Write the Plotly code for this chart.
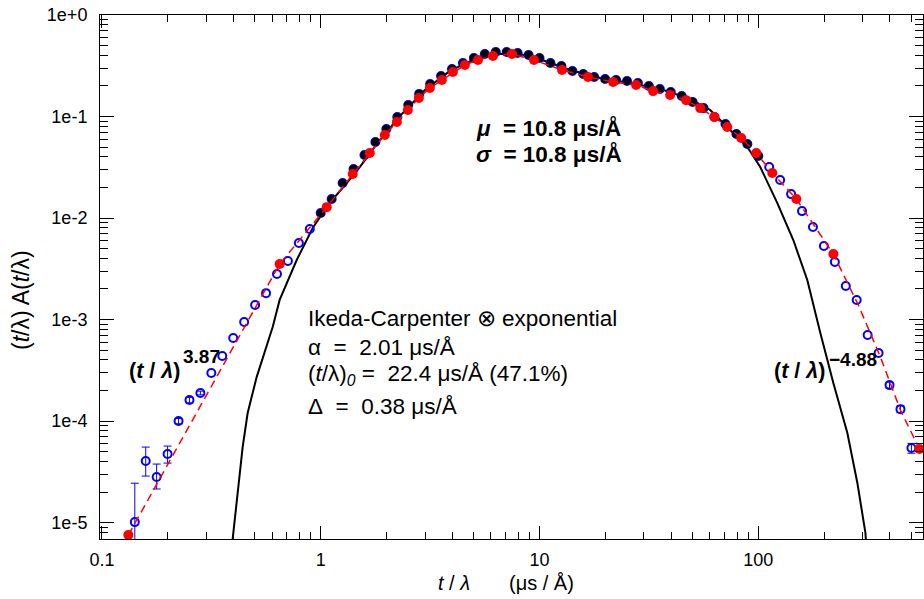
import plotly.graph_objects as go

# ---------------- data ----------------
blue_x = [0.1413, 0.1585, 0.1778, 0.1995, 0.2239, 0.2512, 0.2818, 0.3162, 0.3548, 0.3981,
          0.4467, 0.5012, 0.5623, 0.6310, 0.7079, 0.7943, 0.8913, 1.000, 1.122, 1.259,
          1.413, 1.585, 1.778, 1.995, 2.239, 2.512, 2.818, 3.162, 3.548, 3.981,
          4.467, 5.012, 5.623, 6.310, 7.079, 7.943, 8.913, 10.00, 11.22, 12.59,
          14.13, 15.85, 17.78, 19.95, 22.39, 25.12, 28.18, 31.62, 35.48, 39.81,
          44.67, 50.12, 56.23, 63.10, 70.79, 79.43, 89.13, 100.0, 112.2, 125.9,
          141.3, 158.5, 177.8, 199.5, 223.9, 251.2, 281.8, 316.2, 354.8, 398.1,
          446.7, 501.2]
blue_y = [1.01e-5, 4.04e-5, 2.81e-5, 4.73e-5, 1.00e-4, 1.61e-4, 1.89e-4, 2.97e-4, 4.37e-4, 6.57e-4,
          9.45e-4, 1.39e-3, 1.82e-3, 2.81e-3, 3.77e-3, 5.67e-3, 7.79e-3, 0.0112, 0.0154, 0.0221,
          0.0304, 0.0418, 0.0561, 0.0753, 0.0989, 0.130, 0.167, 0.209, 0.251, 0.294,
          0.337, 0.377, 0.413, 0.432, 0.432, 0.422, 0.404, 0.377, 0.337, 0.315,
          0.281, 0.262, 0.245, 0.234, 0.229, 0.224, 0.214, 0.200, 0.187, 0.174,
          0.159, 0.139, 0.121, 0.0989, 0.0844, 0.0673, 0.0536, 0.0408, 0.0318, 0.0237,
          0.0172, 0.0117, 8.15e-3, 5.30e-3, 3.69e-3, 2.14e-3, 1.56e-3, 7.03e-4, 4.68e-4, 2.26e-4,
          1.31e-4, 5.42e-5]
# error bars large enough to be seen (None = hidden under the marker)
blue_err_plus = [1.43e-5, 1.5e-5, 0.96e-5, 0.94e-5, 0.6e-5, 1.0e-5, 0.8e-5, None, None, None,
                 None, None, None, None, None, None, None, None, None, None,
                 None, None, None, None, None, None, None, None, None, None,
                 None, None, None, None, None, None, None, None, None, None,
                 None, None, None, None, None, None, None, None, None, None,
                 None, None, None, None, None, None, None, None, None, None,
                 None, None, None, None, None, None, None, None, None, 1.5e-5,
                 1.0e-5, 0.6e-5]
blue_err_minus = [0.99e-5, 1.17e-5, 0.67e-5, 0.88e-5, 0.6e-5, 1.0e-5, 0.8e-5, None, None, None,
                  None, None, None, None, None, None, None, None, None, None,
                  None, None, None, None, None, None, None, None, None, None,
                  None, None, None, None, None, None, None, None, None, None,
                  None, None, None, None, None, None, None, None, None, None,
                  None, None, None, None, None, None, None, None, None, None,
                  None, None, None, None, None, None, None, None, None, 1.5e-5,
                  1.0e-5, 0.6e-5]

# black filled points (second data set, 1 .. 100 us/A)
black_x = blue_x[17:58]
black_y = blue_y[17:58]

red_x = [0.132, 0.649, 1.065, 1.401, 1.676, 1.963, 2.228, 2.501, 2.809, 3.154,
         3.579, 4.019, 4.560, 5.231, 6.127, 7.484, 9.437, 12.68, 16.67, 21.70,
         27.65, 33.05, 39.55, 46.80, 54.28, 62.93, 72.16, 83.58, 97.9, 115.9,
         149.3, 220.4, 545.5]
red_y = [7.53e-6, 3.52e-3, 0.0128, 0.0271, 0.0437, 0.0657, 0.0883, 0.116, 0.152, 0.191,
         0.229, 0.274, 0.322, 0.360, 0.395, 0.413, 0.360, 0.287, 0.245, 0.219,
         0.204, 0.178, 0.163, 0.145, 0.121, 0.0989, 0.0788, 0.0614, 0.0437, 0.0278,
         0.0154, 4.42e-3, 5.30e-5]

# red dashed fit (full model)
fit_x = red_x[:-1] + [286.7, 361.7, 446.6, 545.5]
fit_y = red_y[:-1] + [1.39e-3, 4.27e-4, 1.28e-4, 5.30e-5]

# black solid curve (Ikeda-Carpenter (x) exponential)
ic_x = [0.3915, 0.3957, 0.4396, 0.4634, 0.5094, 0.603, 0.649, 0.7765, 0.919, 1.099,
        1.315, 1.508, 1.862, 2.299, 2.992, 3.892, 5.069, 6.596, 8.146, 10.60,
        13.79, 18.92, 25.96, 35.59, 48.84, 60.30, 66.98, 76.84, 89.1, 102.1,
        122.1, 144.6, 167.5, 192.2, 220.4, 255.4, 283.8, 309.0, 312.0]
ic_y = [4.3e-6, 6.87e-6, 5.54e-5, 1.20e-4, 2.71e-4, 8.44e-4, 1.56e-3, 3.86e-3, 7.97e-3, 0.0141,
        0.0221, 0.0318, 0.0587, 0.101, 0.182, 0.281, 0.368, 0.413, 0.413, 0.352,
        0.287, 0.240, 0.214, 0.187, 0.149, 0.116, 0.0924, 0.0688, 0.0501, 0.0318,
        0.0141, 6.07e-3, 2.45e-3, 7.36e-4, 2.37e-4, 7.62e-5, 2.45e-5, 7.88e-6, 5.5e-6]

x_major = [0.1, 1, 10, 100]
x_major_text = ["0.1", "1", "10", "100"]
y_major = [1e-5, 1e-4, 1e-3, 1e-2, 1e-1, 1]
y_major_text = ["1e-5", "1e-4", "1e-3", "1e-2", "1e-1", "1e+0"]

x_minor = [m * d for d in [0.1, 1, 10, 100] for m in range(2, 10)]
y_minor = [m * d for d in [1e-6, 1e-5, 1e-4, 1e-3, 1e-2, 1e-1] for m in range(2, 10)]

FONT = "Liberation Sans, Arial, sans-serif"
BLUE = "rgb(0,0,255)"
RED = "rgb(255,0,0)"
NB = "\u00a0"

fig = go.Figure()

fig.add_trace(go.Scatter(
    x=ic_x, y=ic_y, mode="lines", line=dict(color="black", width=2),
    showlegend=False, hoverinfo="skip"))

# blue points: split into those with visible error bars and those without
eb_idx = [i for i, e in enumerate(blue_err_plus) if e is not None]
ne_idx = [i for i, e in enumerate(blue_err_plus) if e is None]
blue_marker = dict(symbol="circle-open", size=8, color=BLUE, line=dict(width=2, color=BLUE))

fig.add_trace(go.Scatter(
    x=[blue_x[i] for i in ne_idx], y=[blue_y[i] for i in ne_idx], mode="markers",
    marker=blue_marker, showlegend=False))
fig.add_trace(go.Scatter(
    x=[blue_x[i] for i in eb_idx], y=[blue_y[i] for i in eb_idx], mode="markers",
    marker=blue_marker,
    error_y=dict(type="data", symmetric=False,
                 array=[blue_err_plus[i] for i in eb_idx],
                 arrayminus=[blue_err_minus[i] for i in eb_idx],
                 color=BLUE, thickness=1, width=4),
    showlegend=False))

fig.add_trace(go.Scatter(
    x=black_x, y=black_y, mode="markers",
    marker=dict(symbol="circle", size=8, color="black"),
    showlegend=False))

fig.add_trace(go.Scatter(
    x=fit_x, y=fit_y, mode="lines",
    line=dict(color=RED, width=1.5, dash="8px,5px"),
    showlegend=False, hoverinfo="skip"))

fig.add_trace(go.Scatter(
    x=red_x, y=red_y, mode="markers", cliponaxis=False,
    marker=dict(symbol="circle", size=10, color=RED),
    showlegend=False))

L, R, T, B = 100, 923, 15, 539
W, H = 924, 599


def px(xp):
    return (xp - L) / (R - L)


def py(yp):
    return (B - yp) / (B - T)


annots = []


def add_text(text, x, y, size=18, xanchor="left", angle=0):
    annots.append(dict(text=text, xref="paper", yref="paper", x=px(x), y=py(y),
                       xanchor=xanchor, yanchor="middle", showarrow=False, textangle=angle,
                       font=dict(family=FONT, size=size, color="black")))


add_text("<b><i>μ</i>" + NB * 2 + "= 10.8 μs/Å</b>", 474, 128, size=22.5)
add_text("<b><i>σ</i>" + NB * 2 + "= 10.8 μs/Å</b>", 474, 154, size=22.5)
add_text("Ikeda-Carpenter ⊗ exponential", 306, 318, size=22.5)
add_text("α" + NB * 2 + "=" + NB * 2 + "2.01 μs/Å", 306, 347, size=22.5)
add_text("(<i>t</i>/λ)<sub><i>0</i></sub> =" + NB * 2 + "22.4 μs/Å (47.1%)", 306, 375, size=22.5)
add_text("Δ" + NB * 2 + "=" + NB * 2 + "0.38 μs/Å", 306, 406, size=22.5)
add_text("<b>(<i>t</i> / <i>λ</i>)</b>", 127, 371, size=21.5)
add_text("<b>3.87</b>", 181, 356, size=19)
add_text("<b>(<i>t</i> / <i>λ</i>)</b>", 772, 371, size=21.5)
add_text("<b>−4.88</b>", 827, 359, size=19)
add_text("<i>t</i> / <i>λ</i>" + NB * 7 + "(μs" + NB + "/" + NB + "Å)", 506, 583, size=20,
         xanchor="center")
annots.append(dict(text="(<i>t</i>/λ) A(<i>t</i>/λ)", xref="paper", yref="paper",
                   x=px(21), y=py(300), xanchor="center", yanchor="middle",
                   showarrow=False, textangle=-90,
                   font=dict(family=FONT, size=23, color="black")))

axis_common = dict(type="log", showgrid=False, zeroline=False, showline=True,
                   linecolor="black", linewidth=1, mirror="ticks",
                   ticks="inside", tickcolor="black", tickwidth=1,
                   tickfont=dict(family=FONT, size=18, color="black"))

fig.update_xaxes(**axis_common, range=[-1.009, 2.753], tickmode="array",
                 tickvals=x_major, ticktext=x_major_text, ticklen=13,
                 ticklabelstandoff=4,
                 minor=dict(tickvals=x_minor, ticks="inside", ticklen=7,
                            tickcolor="black", tickwidth=1, showgrid=False))
fig.update_yaxes(**axis_common, range=[-5.162, 0.0], tickmode="array",
                 tickvals=y_major, ticktext=y_major_text, ticklen=14,
                 ticklabelstandoff=8,
                 minor=dict(tickvals=y_minor, ticks="inside", ticklen=8,
                            tickcolor="black", tickwidth=1, showgrid=False))

fig.update_layout(
    width=W, height=H,
    margin=dict(l=L, r=W - R, t=T, b=H - B, pad=0),
    paper_bgcolor="white", plot_bgcolor="white",
    annotations=annots, showlegend=False,
    font=dict(family=FONT, color="black"))

fig.write_html("out.html")
